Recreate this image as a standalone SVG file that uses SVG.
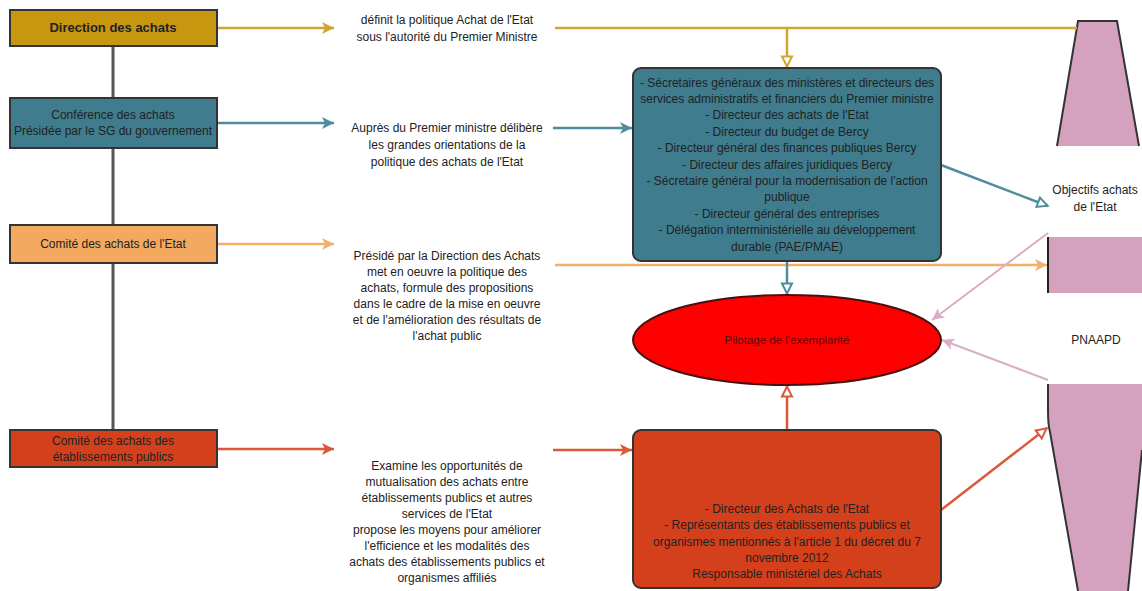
<svg xmlns="http://www.w3.org/2000/svg" width="1142" height="591" viewBox="0 0 1142 591">
<defs>
<style>
text{font-family:"Liberation Sans",Arial,sans-serif;font-size:12px;fill:#222;text-anchor:middle}
.box{stroke:#333;stroke-width:2}
.gold{fill:#c89710}
.teal{fill:#3f7c8d}
.orange{fill:#f3a95f}
.red{fill:#d5401c}
.pink{fill:#d4a1bf}
.ln{fill:none;stroke-width:2.5}
</style>
<marker id="fGold" markerUnits="userSpaceOnUse" markerWidth="14" markerHeight="14" refX="12" refY="7" orient="auto"><path d="M0,1 L12,7 L0,13 L3,7 z" fill="#d1a52e"/></marker>
<marker id="fTeal" markerUnits="userSpaceOnUse" markerWidth="14" markerHeight="14" refX="12" refY="7" orient="auto"><path d="M0,1 L12,7 L0,13 L3,7 z" fill="#4e8d9c"/></marker>
<marker id="fOrange" markerUnits="userSpaceOnUse" markerWidth="14" markerHeight="14" refX="12" refY="7" orient="auto"><path d="M0,1 L12,7 L0,13 L3,7 z" fill="#f2b06b"/></marker>
<marker id="fRed" markerUnits="userSpaceOnUse" markerWidth="14" markerHeight="14" refX="12" refY="7" orient="auto"><path d="M0,1 L12,7 L0,13 L3,7 z" fill="#d95a3a"/></marker>
<marker id="fPink" markerUnits="userSpaceOnUse" markerWidth="14" markerHeight="14" refX="12" refY="7" orient="auto"><path d="M0,1 L12,7 L0,13 L3,7 z" fill="#d9afc8"/></marker>
<marker id="oGold" markerUnits="userSpaceOnUse" markerWidth="14" markerHeight="14" refX="12" refY="7" orient="auto"><path d="M1.5,2 L11.5,7 L1.5,12 z" fill="#fff" stroke="#d1a52e" stroke-width="2"/></marker>
<marker id="oTeal" markerUnits="userSpaceOnUse" markerWidth="14" markerHeight="14" refX="12" refY="7" orient="auto"><path d="M1.5,2 L11.5,7 L1.5,12 z" fill="#fff" stroke="#4e8d9c" stroke-width="2"/></marker>
<marker id="oRed" markerUnits="userSpaceOnUse" markerWidth="14" markerHeight="14" refX="12" refY="7" orient="auto"><path d="M1.5,2 L11.5,7 L1.5,12 z" fill="#fff" stroke="#d95a3a" stroke-width="2"/></marker>
</defs>
<rect width="1142" height="591" fill="#fff"/>

<g id="funnel">
<polygon class="pink" points="1078,21 1117,21 1139,146 1057,146"/>
<polyline points="1057,146 1078,21 1117,21 1139,146" fill="none" stroke="#333" stroke-width="2"/>
<rect class="pink" x="1048" y="237" width="94" height="56"/>
<line x1="1048" y1="237" x2="1048" y2="293" stroke="#222" stroke-width="2"/>
<path class="pink" d="M1048,384 L1142,384 L1142,450 L1128,591 L1078,591 L1050,432 Q1048,425 1048,410 Z"/>
<path d="M1048,384 L1048,410 Q1048,425 1050,432 L1078,591" fill="none" stroke="#333" stroke-width="2"/>
<path d="M1142,450 L1128,591" fill="none" stroke="#333" stroke-width="2"/>
</g>

<g id="connectors">
<line x1="113" y1="46" x2="113" y2="430" stroke="#555" stroke-width="3"/>
<line class="ln" x1="217" y1="28" x2="334" y2="28" stroke="#d1a52e" marker-end="url(#fGold)"/>
<line class="ln" x1="217" y1="123" x2="334" y2="123" stroke="#4e8d9c" marker-end="url(#fTeal)"/>
<line class="ln" x1="217" y1="244" x2="334" y2="244" stroke="#f2b06b" marker-end="url(#fOrange)"/>
<line class="ln" x1="217" y1="449" x2="334" y2="449" stroke="#d95a3a" marker-end="url(#fRed)"/>
<line class="ln" x1="555" y1="28" x2="1077" y2="28" stroke="#d1a52e"/>
<line class="ln" x1="787" y1="28" x2="787" y2="67" stroke="#d1a52e" marker-end="url(#oGold)"/>
<line class="ln" x1="553" y1="128" x2="632" y2="128" stroke="#4e8d9c" marker-end="url(#fTeal)"/>
<line class="ln" x1="555" y1="265" x2="1047" y2="265" stroke="#f2b06b" marker-end="url(#fOrange)"/>
<line class="ln" x1="553" y1="450" x2="632" y2="450" stroke="#d95a3a" marker-end="url(#fRed)"/>
<line class="ln" x1="941" y1="165" x2="1048" y2="206" stroke="#4e8d9c" marker-end="url(#oTeal)"/>
<line class="ln" x1="787" y1="261" x2="787" y2="294" stroke="#4e8d9c" marker-end="url(#oTeal)"/>
<line class="ln" x1="787" y1="430" x2="787" y2="386" stroke="#d95a3a" marker-end="url(#oRed)"/>
<line class="ln" x1="941" y1="510" x2="1047" y2="428" stroke="#d95a3a" marker-end="url(#oRed)"/>
<line x1="1048" y1="233" x2="932" y2="320" stroke="#d9afc8" stroke-width="2" marker-end="url(#fPink)"/>
<line x1="1048" y1="380" x2="942" y2="340" stroke="#d9afc8" stroke-width="2" marker-end="url(#fPink)"/>
</g>

<g id="direction">
<rect class="box gold" x="10" y="10" width="207" height="36"/>
<text x="113" y="32" style="font-weight:bold;font-size:13px">Direction des achats</text>
</g>
<g id="conference">
<rect class="box teal" x="10" y="98" width="207" height="50"/>
<text x="113" y="119">Conférence des achats</text>
<text x="113" y="135">Présidée par le SG du gouvernement</text>
</g>
<g id="comite-etat">
<rect class="box orange" x="10" y="225" width="207" height="38"/>
<text x="113" y="248">Comité des achats de l'Etat</text>
</g>
<g id="comite-ep">
<rect class="box red" x="10" y="430" width="207" height="37"/>
<text x="113" y="445">Comité des achats des</text>
<text x="113" y="461">établissements publics</text>
</g>

<g id="txt-definit">
<text x="447" y="24">définit la politique Achat de l'Etat</text>
<text x="447" y="41">sous l'autorité du Premier Ministre</text>
</g>
<g id="txt-aupres">
<text x="447" y="132">Auprès du Premier ministre délibère</text>
<text x="447" y="149">les grandes orientations de la</text>
<text x="447" y="166">politique des achats de l'Etat</text>
</g>
<g id="txt-preside">
<text x="447" y="260">Présidé par la Direction des Achats</text>
<text x="447" y="276">met en oeuvre la politique des</text>
<text x="447" y="292">achats, formule des propositions</text>
<text x="447" y="308">dans le cadre de la mise en oeuvre</text>
<text x="447" y="324">et de l'amélioration des résultats de</text>
<text x="447" y="340">l'achat public</text>
</g>
<g id="txt-examine">
<text x="447" y="470">Examine les opportunités de</text>
<text x="447" y="486">mutualisation des achats entre</text>
<text x="447" y="502">établissements publics et autres</text>
<text x="447" y="518">services de l'Etat</text>
<text x="447" y="534">propose les moyens pour améliorer</text>
<text x="447" y="550">l'efficience et les modalités des</text>
<text x="447" y="566">achats des établissements publics et</text>
<text x="447" y="582">organismes affiliés</text>
</g>

<g id="conference-membres">
<rect class="box teal" x="633" y="68" width="308" height="193" rx="8"/>
<text x="787" y="87">- Sécretaires généraux des ministères et directeurs des</text>
<text x="787" y="103">services administratifs et financiers du Premier ministre</text>
<text x="787" y="119">- Directeur des achats de l'Etat</text>
<text x="787" y="136">- Directeur du budget de Bercy</text>
<text x="787" y="152">- Directeur général des finances publiques Bercy</text>
<text x="787" y="169">- Directeur des affaires juridiques Bercy</text>
<text x="787" y="185">- Sécretaire général pour la modernisation de l'action</text>
<text x="787" y="201">publique</text>
<text x="787" y="218">- Directeur général des entreprises</text>
<text x="787" y="234">- Délégation interministérielle au développement</text>
<text x="787" y="251">durable (PAE/PMAE)</text>
</g>

<g id="pilotage">
<ellipse cx="787" cy="340" rx="154" ry="45" fill="#ff0000" stroke="#4a1010" stroke-width="2"/>
<text x="787" y="344" style="fill:#5e0808;font-size:11.5px">Pilotage de l'exemplarité</text>
</g>

<g id="comite-ep-membres">
<rect class="box red" x="633" y="430" width="308" height="158" rx="8"/>
<text x="787" y="513">- Directeur des Achats de l'Etat</text>
<text x="787" y="529">- Représentants des établissements publics et</text>
<text x="787" y="546">organismes mentionnés à l'article 1 du décret du 7</text>
<text x="787" y="562">novembre 2012</text>
<text x="787" y="578">Responsable ministériel des Achats</text>
</g>

<g id="objectifs">
<text x="1095" y="194">Objectifs achats</text>
<text x="1095" y="211">de l'Etat</text>
</g>
<g id="pnaapd">
<text x="1096" y="344">PNAAPD</text>
</g>
</svg>
